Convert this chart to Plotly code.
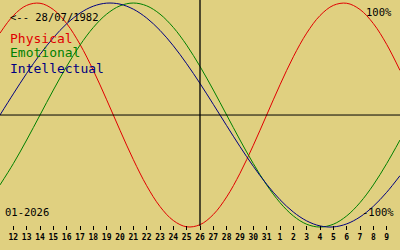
import plotly.graph_objects as go

# Day index: 11..31 = January 2026, 32..41 = 1..10 February 2026
days = list(range(11, 42))

physical = [0.731, 0.888, 0.979, 0.998, 0.942, 0.817, 0.631, 0.398, 0.136, -0.136,
            -0.398, -0.631, -0.817, -0.942, -0.998, -0.979, -0.888, -0.731, -0.520, -0.270,
            0.000, 0.270, 0.520, 0.731, 0.888, 0.979, 0.998, 0.942, 0.817, 0.631, 0.398]
emotional = [-0.624, -0.434, -0.223, 0.000, 0.223, 0.434, 0.624, 0.782, 0.901, 0.975,
             1.000, 0.975, 0.901, 0.782, 0.624, 0.434, 0.223, 0.000, -0.223, -0.434,
             -0.624, -0.782, -0.901, -0.975, -1.000, -0.975, -0.901, -0.782, -0.624, -0.434, -0.223]
intellectual = [0.000, 0.189, 0.372, 0.541, 0.690, 0.815, 0.910, 0.972, 0.999, 0.990,
                0.945, 0.866, 0.756, 0.618, 0.458, 0.282, 0.095, -0.095, -0.282, -0.458,
                -0.618, -0.756, -0.866, -0.945, -0.990, -0.999, -0.972, -0.910, -0.815, -0.690, -0.541]

tick_days = list(range(12, 41))
tick_labels = ["12", "13", "14", "15", "16", "17", "18", "19", "20", "21", "22", "23", "24",
               "25", "26", "27", "28", "29", "30", "31", "1", "2", "3", "4", "5", "6", "7", "8", "9"]

today = 26
birth_label = "<-- 28/07/1982"
month_label = "01-2026"

BG = "#e0d080"
MONO = "DejaVu Sans Mono"

fig = go.Figure()
series = [("Physical", physical, "#e00000"),
          ("Emotional", emotional, "#008000"),
          ("Intellectual", intellectual, "#000080")]
for name, vals, col in series:
    fig.add_trace(go.Scatter(x=days, y=vals, mode="lines", name=name,
                             line=dict(color=col, width=1, shape="spline"),
                             hoverinfo="skip", showlegend=False))

# axes cross lines
fig.add_shape(type="line", x0=11, x1=41, y0=0, y1=0, xref="x", yref="y",
              line=dict(color="black", width=1))
fig.add_shape(type="line", x0=today, x1=today, y0=-0.99, y1=1.03, xref="x", yref="y",
              line=dict(color="black", width=1.3))

def ann(text, x, y, xanchor, color="black", size=10):
    fig.add_annotation(text=text, x=x / 400, y=1 - y / 250, xref="paper", yref="paper",
                       xanchor=xanchor, yanchor="middle", showarrow=False,
                       font=dict(family=MONO, size=size, color=color))

ann(birth_label, 8, 17, "left", size=10.5)
ann("Physical", 8, 38, "left", "#e00000", 13)
ann("Emotional", 8, 53, "left", "#008000", 13)
ann("Intellectual", 8, 68, "left", "#000080", 13)
ann("100%", 394, 12, "right", size=10.5)
ann("-100%", 396, 212, "right", size=10.5)
ann(month_label, 3, 212, "left", size=10.5)

fig.update_layout(
    width=400, height=250,
    margin=dict(l=0, r=0, t=0, b=0),
    paper_bgcolor=BG, plot_bgcolor=BG,
    hovermode=False,
    xaxis=dict(range=[11, 41], showgrid=False, zeroline=False, showline=False,
               anchor="free", position=0.1,
               tickmode="array", tickvals=tick_days, ticktext=tick_labels,
               ticks="outside", ticklen=4, tickwidth=1, tickcolor="black",
               tickfont=dict(family=MONO, size=8, color="black", weight="bold")),
    yaxis=dict(range=[-1.205, 1.027], showgrid=False, zeroline=False, showline=False,
               showticklabels=False, ticks=""),
)

fig.write_html("out.html", config={"displayModeBar": False})
